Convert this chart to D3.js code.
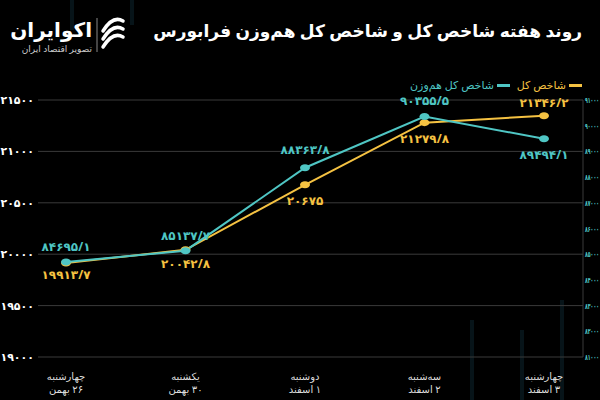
<!DOCTYPE html>
<html><head><meta charset="utf-8">
<script src="https://cdn.jsdelivr.net/npm/d3@7"></script>
<style>body{margin:0;background:#000}svg{display:block;font-family:"Noto Sans","DejaVu Sans",sans-serif}</style>
</head><body><svg id="c" width="600" height="400"></svg>
<script>
// Data
var days = ["چهارشنبه|۲۶ بهمن", "یکشنبه|۳۰ بهمن", "دوشنبه|۱ اسفند", "سه‌شنبه|۲ اسفند", "چهارشنبه|۳ اسفند"];
var totalIndex = [19913.7, 20042.8, 20675, 21279.8, 21346.2];
var equalIndex = [84695.1, 85137.7, 88363.8, 90355.5, 89494.1];
var leftTicks = [19000, 19500, 20000, 20500, 21000, 21500];
var rightTicks = [81000, 82000, 83000, 84000, 85000, 86000, 87000, 88000, 89000, 90000, 91000];

var gold = "#f5c242", teal = "#4fc6c4";
function fa(v) {
    return String(v).replace(".", "/").replace(/\d/g, function(d){ return "۰۱۲۳۴۵۶۷۸۹"[d]; });
}
// rtl text: anchor "start" puts its right edge at x
function rtl(sel) { return sel.attr("direction", "rtl").attr("text-anchor", "start"); }

var svg = d3.select("#c");
var L = 38, R = 583, T = 100, B = 357;

// faint background bars
var deco = [[70,0,30],[130,0,25],[470,320,80],[520,330,70],[560,300,100]];
deco.forEach(function(d){
    svg.append("rect").attr("x", d[0]).attr("y", d[1]).attr("width", 4).attr("height", d[2])
       .attr("fill", "#0c2229").attr("opacity", 0.6);
});

var x = d3.scalePoint().domain(d3.range(days.length)).range([66, 544]);
var yL = d3.scaleLinear().domain([19000, 21500]).range([B, T]);
var yR = d3.scaleLinear().domain([81000, 91000]).range([B, T]);

// grid
leftTicks.forEach(function(t){
    svg.append("line").attr("x1", L).attr("x2", R).attr("y1", yL(t)).attr("y2", yL(t))
       .attr("stroke", "#3a3a3a").attr("stroke-width", 1);
});
svg.append("line").attr("x1", R).attr("x2", R).attr("y1", T).attr("y2", B).attr("stroke", "#3a3a3a");

// left axis labels
svg.selectAll(".lt").data(leftTicks).enter().append("text")
   .attr("x", 34).attr("y", function(d){ return yL(d) + 4; }).attr("text-anchor", "end")
   .attr("fill", "#fff").attr("font-size", 11).attr("font-weight", "bold").text(fa);
// right axis labels
svg.selectAll(".rt").data(rightTicks).enter().append("text")
   .attr("x", 585).attr("y", function(d){ return yR(d) + 3; })
   .attr("fill", teal).attr("font-size", 8).attr("font-weight", "bold")
   .attr("textLength", 14).attr("lengthAdjust", "spacingAndGlyphs").text(fa);

// x labels
days.forEach(function(d, i){
    var p = d.split("|");
    p.forEach(function(s, k){
        svg.append("text").attr("x", x(i)).attr("y", 380 + k * 13).attr("text-anchor", "middle")
           .attr("direction", "rtl").attr("fill", "#ddd").attr("font-size", 10).text(s);
    });
});

// lines
var lineL = d3.line().x(function(d, i){ return x(i); }).y(function(d){ return yL(d); });
var lineR = d3.line().x(function(d, i){ return x(i); }).y(function(d){ return yR(d); });
svg.append("path").attr("d", lineL(totalIndex)).attr("fill", "none").attr("stroke", gold).attr("stroke-width", 2);
svg.append("path").attr("d", lineR(equalIndex)).attr("fill", "none").attr("stroke", teal).attr("stroke-width", 2);
svg.selectAll(".dg").data(totalIndex).enter().append("ellipse")
   .attr("cx", function(d, i){ return x(i); }).attr("cy", function(d){ return yL(d); })
   .attr("rx", 5).attr("ry", 3.5).attr("fill", gold);
svg.selectAll(".dt").data(equalIndex).enter().append("ellipse")
   .attr("cx", function(d, i){ return x(i); }).attr("cy", function(d){ return yR(d); })
   .attr("rx", 5).attr("ry", 3.5).attr("fill", teal);

// value labels
var goldOff = [16, 18, 20, 20, -9];
var tealOff = [-11, -11, -14, -12, 20];
svg.selectAll(".vg").data(totalIndex).enter().append("text")
   .attr("x", function(d, i){ return x(i); }).attr("y", function(d, i){ return yL(d) + goldOff[i]; })
   .attr("text-anchor", "middle").attr("fill", gold).attr("font-size", 12).attr("font-weight", "bold").text(fa);
svg.selectAll(".vt").data(equalIndex).enter().append("text")
   .attr("x", function(d, i){ return x(i); }).attr("y", function(d, i){ return yR(d) + tealOff[i]; })
   .attr("text-anchor", "middle").attr("fill", teal).attr("font-size", 12).attr("font-weight", "bold").text(fa);

// title
rtl(svg.append("text")).attr("x", 582).attr("y", 37)
   .attr("fill", "#fff").attr("font-size", 17).attr("font-weight", "bold")
   .text("روند هفته شاخص کل و شاخص کل هم‌وزن فرابورس");

// legend
svg.append("rect").attr("x", 569).attr("y", 84).attr("width", 13).attr("height", 3).attr("fill", gold);
rtl(svg.append("text")).attr("x", 566).attr("y", 89).attr("fill", gold)
   .attr("font-size", 11).text("شاخص کل");
svg.append("rect").attr("x", 497).attr("y", 84).attr("width", 13).attr("height", 3).attr("fill", teal);
rtl(svg.append("text")).attr("x", 494).attr("y", 89).attr("fill", teal)
   .attr("font-size", 11).text("شاخص کل هم‌وزن");

// logo
var lg = svg.append("g").attr("transform", "translate(113,33)");
[-8, 0, 8].forEach(function(o){
    lg.append("path").attr("d", "M-10," + (o + 6) + " Q0," + (o - 10) + " 10," + (o - 4))
      .attr("fill", "none").attr("stroke", "#fff").attr("stroke-width", 3.5).attr("stroke-linecap", "round");
});
svg.append("line").attr("x1", 97).attr("x2", 97).attr("y1", 18).attr("y2", 52).attr("stroke", "#888");
rtl(svg.append("text")).attr("x", 92).attr("y", 37).attr("fill", "#fff")
   .attr("font-size", 20).attr("font-weight", "bold").text("اکوایران");
rtl(svg.append("text")).attr("x", 92).attr("y", 52).attr("fill", "#ccc")
   .attr("font-size", 9).text("تصویر اقتصاد ایران");
</script></body></html>
